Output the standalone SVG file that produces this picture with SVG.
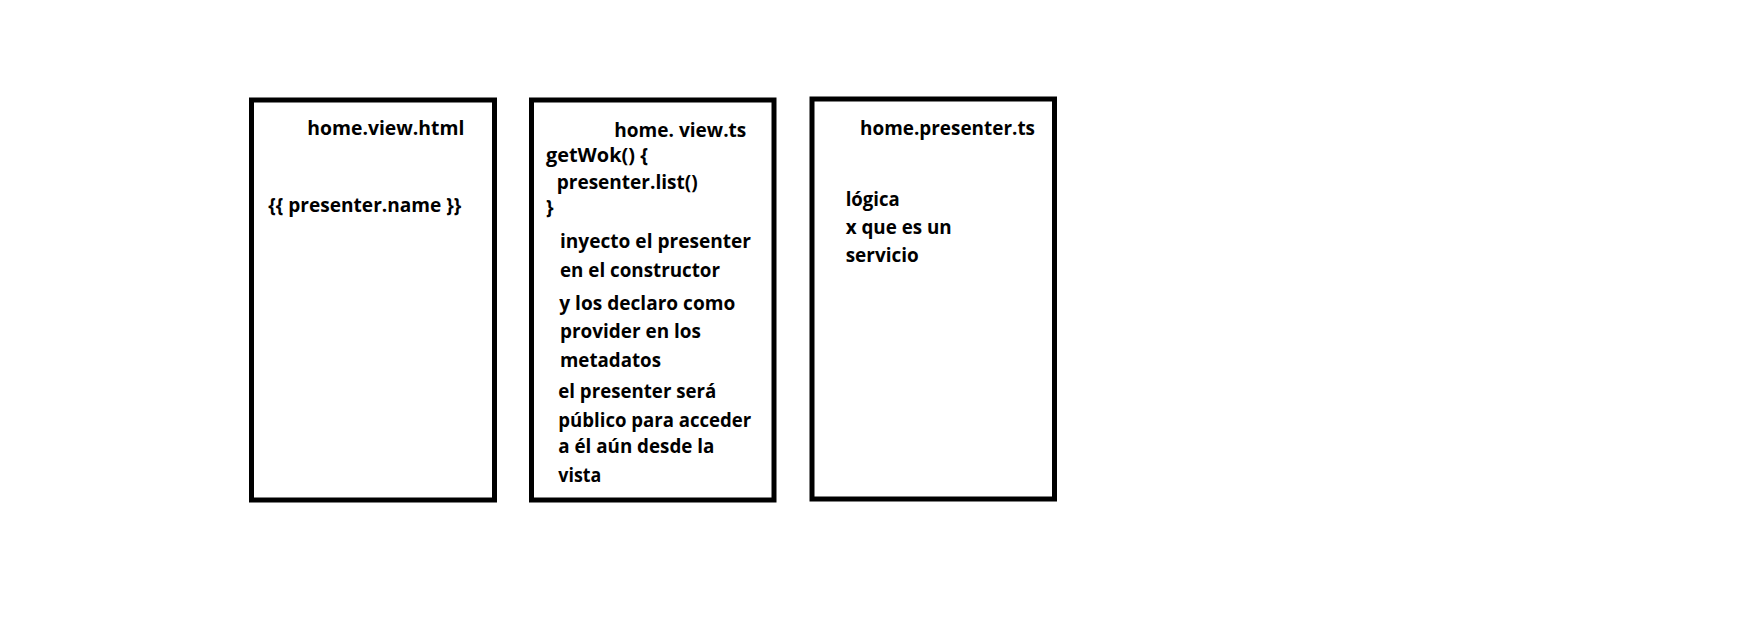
<svg xmlns="http://www.w3.org/2000/svg" width="1757" height="644" viewBox="0 0 1757 644">
<style>
.box{fill:#fff;stroke:#000;stroke-width:5}
text{font-family:"Open Sans","Liberation Sans",sans-serif;font-weight:bold;font-size:19.2px;fill:#000}
</style>
<rect width="1757" height="644" fill="#fff"/>
<g id="home-view-html">
<rect class="box" x="251.5" y="100" width="243" height="400"/>
<text x="307.3" y="135" textLength="157" lengthAdjust="spacingAndGlyphs">home.view.html</text>
<text x="268.3" y="211.7" textLength="193" lengthAdjust="spacingAndGlyphs">{{ presenter.name }}</text>
</g>
<g id="home-view-ts">
<rect class="box" x="531.5" y="100" width="242.5" height="400"/>
<text x="614.3" y="136.5" textLength="132" lengthAdjust="spacingAndGlyphs">home. view.ts</text>
<text x="546" y="161.7" textLength="102" lengthAdjust="spacingAndGlyphs">getWok() {</text>
<text x="556.7" y="188.5" textLength="141" lengthAdjust="spacingAndGlyphs">presenter.list()</text>
<text x="546" y="214">}</text>
<text x="560" y="248.3" textLength="191" lengthAdjust="spacingAndGlyphs">inyecto el presenter</text>
<text x="560" y="276.7" textLength="160" lengthAdjust="spacingAndGlyphs">en el constructor</text>
<text x="559.3" y="310" textLength="176" lengthAdjust="spacingAndGlyphs">y los declaro como</text>
<text x="560" y="338.3" textLength="141" lengthAdjust="spacingAndGlyphs">provider en los</text>
<text x="560" y="366.7" textLength="101" lengthAdjust="spacingAndGlyphs">metadatos</text>
<text x="558.3" y="398.3" textLength="158" lengthAdjust="spacingAndGlyphs">el presenter será</text>
<text x="558.3" y="426.7" textLength="193" lengthAdjust="spacingAndGlyphs">público para acceder</text>
<text x="558.3" y="453.3" textLength="156" lengthAdjust="spacingAndGlyphs">a él aún desde la</text>
<text x="558.3" y="481.7" textLength="43" lengthAdjust="spacingAndGlyphs">vista</text>
</g>
<g id="home-presenter-ts">
<rect class="box" x="812" y="99" width="242.5" height="400"/>
<text x="860" y="135" textLength="175" lengthAdjust="spacingAndGlyphs">home.presenter.ts</text>
<text x="845.7" y="205.7" textLength="54" lengthAdjust="spacingAndGlyphs">lógica</text>
<text x="845.7" y="234" textLength="106" lengthAdjust="spacingAndGlyphs">x que es un</text>
<text x="845.7" y="261.7" textLength="73" lengthAdjust="spacingAndGlyphs">servicio</text>
</g>
<g id="connectors"/>
</svg>
